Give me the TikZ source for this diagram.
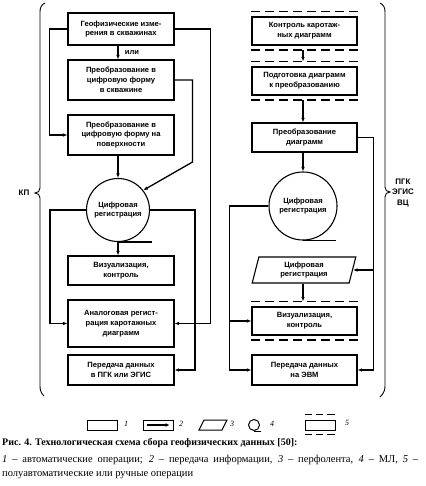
\documentclass[tikz,border=0pt]{standalone}
\usepackage{fontspec}
\setmainfont{Liberation Serif}
\setsansfont{Liberation Sans}
\usetikzlibrary{arrows.meta,shapes.geometric,calc}
\begin{document}
\begin{tikzpicture}[x=1pt,y=-1pt,
  lbl/.style={font=\sffamily\bfseries\fontsize{7.6}{9.8}\selectfont, align=center},
  box/.style={lbl, draw, line width=1.1pt, minimum width=106pt, inner sep=1pt},
  rbox/.style={box, minimum width=105pt},
  reg/.style={lbl, draw, circle, line width=1.1pt, inner sep=0pt},
  conn/.style={line width=1.3pt},
  arr/.style={conn, -{Latex[length=4.5pt,width=3.6pt]}},
  dl/.style={line width=1.2pt, dash pattern=on 9pt off 5pt},
  brace/.style={line width=0.9pt},
  num/.style={font=\itshape\fontsize{8}{8}\selectfont, inner sep=0pt},
  captxt/.style={anchor=west, inner sep=0pt, font=\fontsize{10.5}{12}\selectfont},
]
\useasboundingbox (0,0) rectangle (425,486);

% ---------- left column ----------
\node[box, minimum height=32pt] (L1) at (121,29) {Геофизические изме-\\рения в скважинах};
\node[box, minimum height=40pt] (L2) at (121,80) {Преобразование в\\цифровую форму\\в скважине};
\node[box, minimum height=40pt] (L3) at (121,135) {Преобразование в\\цифровую форму на\\поверхности};
\node[reg, minimum size=63pt] (CL) at (118,210) {Цифровая\\регистрация};
\node[box, minimum height=29pt] (L4) at (121,270.5) {Визуализация,\\контроль};
\node[box, minimum height=47pt] (L5) at (121,323.5) {Аналоговая регист-\\рация каротажных\\диаграмм};
\node[box, minimum height=30pt] (L6) at (121,370) {Передача данных\\в ПГК или ЭГИС};

\draw[arr] (L1.south -| CL.center) -- (L2.north -| CL.center) node[midway, right, lbl, xshift=3pt] (ili) {или};
\draw[arr] (L1.west) -- ++(-18,0) |- (L3.west);
\draw[arr] (L1.east) -- ++(36,0) |- (L5.east);
\draw[arr] (L2.east) -- ++(18,0) -- ++(0,82) -- (CL.38);
\draw[arr] (L3.south -| CL.center) -- (CL.north);
\draw[arr] (CL.west) -- (50,210) |- (L5.west);
\draw[arr] (CL.east) -- (195,210) |- (L6.east);
\draw[arr] (CL.south) -- (L4.north -| CL.center);
\draw[conn] (CL.south) -- ++(34,0);

% ---------- right column ----------
\node[rbox, minimum height=28pt] (R1) at (304.5,31) {Контроль каротаж-\\ных диаграмм};
\node[rbox, minimum height=28pt] (R2) at (304.5,81) {Подготовка диаграмм\\к преобразованию};
\node[rbox, minimum height=29pt] (R3) at (304.5,137.5) {Преобразование\\диаграмм};
\node[reg, minimum size=68pt] (CR) at (303,206) {Цифровая\\регистрация};
\node[lbl, draw, line width=1.1pt, trapezium, trapezium left angle=79, trapezium right angle=101,
      trapezium stretches=true, minimum width=104pt, minimum height=26pt, inner sep=1pt] (P) at (304,270) {Цифровая\\регистрация};
\node[rbox, minimum height=28pt] (R4) at (304.5,321) {Визуализация,\\контроль};
\node[rbox, minimum height=30pt] (R5) at (304.5,370) {Передача данных\\на ЭВМ};

\foreach \n in {R1,R2,R4}{
  \draw[dl] ([yshift=5pt]\n.north west) -- ([yshift=5pt]\n.north east);
  \draw[dl] ([yshift=-4.5pt]\n.south west) -- ([yshift=-4.5pt]\n.south east);
}

\draw[arr] ([yshift=-4.5pt]R1.south -| CR.center) -- ([yshift=5pt]R2.north -| CR.center);
\draw[arr] ([yshift=-4.5pt]R2.south -| CR.center) -- (R3.north -| CR.center);
\draw[arr] (R3.south -| CR.center) -- (CR.north);
\draw[conn] (CR.south) -- ++(33,0);
\draw[arr] (P.south -| CR.center) -- ([yshift=5pt]R4.north -| CR.center);
\draw[arr] (R3.east) -- ++(16,0) coordinate (rj) |- (R5.east);
\draw[arr] (rj |- P.east) -- (P.east);
\draw[arr] (CR.west) -- ++(-39,0) coordinate (lj) |- (R5.west);
\draw[arr] (lj |- R4.west) -- (R4.west);

% ---------- braces ----------
\draw[brace] (45,3) .. controls (41,5) and (40,8) .. (40,12) -- (40,188)
  .. controls (40,191) and (38,193) .. (35,193) .. controls (38,193) and (40,195) .. (40,198)
  -- (40,386) .. controls (40,390) and (41,393) .. (44,396);
\node[lbl, font=\sffamily\bfseries\fontsize{8}{9}\selectfont] (kp) at (24,193) {КП};
\draw[brace] (380,3) .. controls (384,5) and (385,8) .. (385,12) -- (385,187)
  .. controls (385,190) and (387,192) .. (390,192) .. controls (387,192) and (385,194) .. (385,197)
  -- (385,386) .. controls (385,390) and (384,393) .. (380,397);
\node[lbl, font=\sffamily\bfseries\fontsize{8}{10.5}\selectfont] (pgk) at (403,193) {ПГК\\ЭГИС\\ВЦ};

% ---------- legend ----------
\node[draw, line width=1pt, minimum width=30pt, minimum height=10pt, inner sep=0pt] (g1) at (102,425) {};
\node[num] (n1) at (126,424) {1};
\node[draw, line width=1pt, minimum width=30pt, minimum height=10pt, inner sep=0pt] (g2) at (158,425) {};
\draw[conn, line width=1.6pt, -{Latex[length=4pt,width=4pt]}] ([xshift=4pt]g2.west) -- ([xshift=-4pt]g2.east);
\node[num] (n2) at (181,424) {2};
\draw[line width=1pt] (199,430) -- (204,420) -- (227,420) -- (222,430) -- cycle;
\node[num] (n3) at (232,424) {3};
\node[draw, circle, line width=1pt, minimum size=11pt, inner sep=0pt] (g4) at (254,425) {};
\draw[line width=1pt] (g4.south) -- ++(7,0);
\node[num] (n4) at (272,424) {4};
\node[draw, line width=1pt, minimum width=30pt, minimum height=10pt, inner sep=0pt] (g5) at (320,425) {};
\draw[line width=1pt, dash pattern=on 7.5pt off 3.75pt] ([yshift=5pt]g5.north west) -- ([yshift=5pt]g5.north east);
\draw[line width=1pt, dash pattern=on 7.5pt off 3.75pt] ([yshift=-4pt]g5.south west) -- ([yshift=-4pt]g5.south east);
\node[num] (n5) at (347,423) {5};

% ---------- caption ----------
\node[captxt, font=\bfseries\fontsize{10}{12}\selectfont] (c1) at (2,443) {Рис. 4. Технологическая схема сбора геофизических данных [50]:};
\node[captxt] (c2) at (2,460) {\makebox[416pt][s]{\textit{1} – автоматические операции; \textit{2} – передача информации, \textit{3} – перфолента, \textit{4} – МЛ, \textit{5} –}};
\node[captxt] (c3) at (2,475) {полуавтоматические или ручные операции};
\end{tikzpicture}
\end{document}
